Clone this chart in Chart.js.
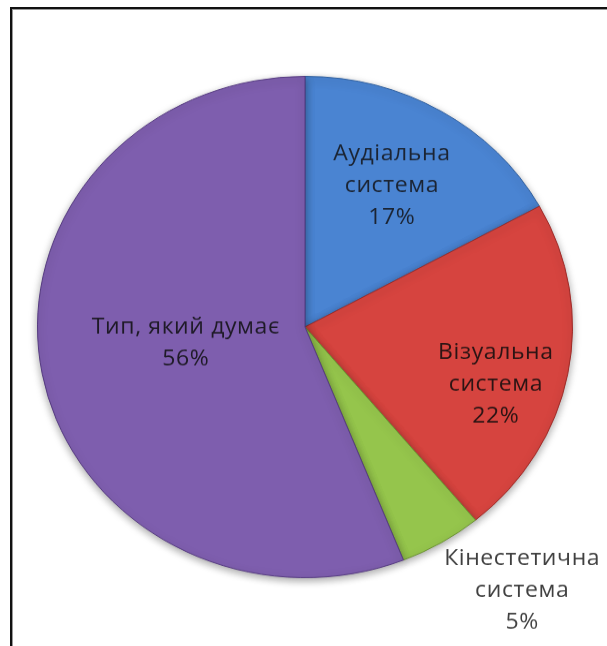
<!DOCTYPE html>
<html>
<head>
<meta charset="utf-8">
<script src="https://cdn.jsdelivr.net/npm/chart.js@4.4.0/dist/chart.umd.min.js"></script>
<style>
    html, body { margin: 0; padding: 0; background: #fff; overflow: hidden; }
    #frame {
        position: absolute; left: 10px; top: 7px; width: 597px; height: 639px;
        border-top: 2px solid #111; border-left: 2px solid #111;
        box-shadow: inset 1px 1px 0 #999;
    }
    #wrap {
        position: absolute; left: 0; top: 0; width: 607px; height: 690px;
        transform: scaleY(0.937); transform-origin: 305px 327px;
    }
</style>
</head>
<body>
<div id="frame"></div>
<div id="wrap"><canvas id="pie-Chart"></canvas></div>
<script>
    // Data
    const labels = [['Аудіальна', 'система'], ['Візуальна', 'система'], ['Кінестетична', 'система'], ['Тип, який думає']];
    const values = [17, 22, 5, 56];
    const colors = ['#4A84D2', '#D6443F', '#95C54C', '#7E5EAE'];
    const edgeColors = ['#2F5F9E', '#9E2A27', '#6A9230', '#553A80'];
    const textColors = ['#1b2433', '#2a1414', '#404040', '#1e1a26'];

    // label placement: fraction along the slice angle and fraction of radius
    const labelSpot = [[0.49, 0.65], [0.59, 0.75], [0.11, 1.33], [0.513, 0.45]];

    const sliceLabels = {
        id: 'sliceLabels',
        afterDatasetsDraw(chart) {
            const ctx = chart.ctx;
            const meta = chart.getDatasetMeta(0);
            ctx.save();
            ctx.font = '23px "Open Sans", sans-serif';
            ctx.letterSpacing = '0.6px';
            ctx.textAlign = 'center';
            ctx.textBaseline = 'middle';
            meta.data.forEach(function (arc, i) {
                const a = arc.startAngle + (arc.endAngle - arc.startAngle) * labelSpot[i][0];
                const r = arc.outerRadius * labelSpot[i][1];
                const x = arc.x + Math.cos(a) * r;
                const y = arc.y + Math.sin(a) * r;
                const lines = labels[i].concat([values[i] + '%']);
                const step = 34;
                const y0 = y - step * (lines.length - 1) / 2;
                ctx.fillStyle = textColors[i];
                lines.forEach(function (t, k) {
                    ctx.fillText(t, x, y0 + k * step);
                });
            });
            ctx.restore();
        }
    };

    const shadow = {
        id: 'shadow',
        beforeDatasetsDraw(chart) {
            const ctx = chart.ctx;
            ctx.save();
            ctx.shadowColor = 'rgba(0,0,0,0.35)';
            ctx.shadowBlur = 8;
            ctx.shadowOffsetY = 3;
        },
        afterDatasetsDraw(chart) {
            chart.ctx.restore();
        }
    };

    new Chart(document.getElementById('pie-Chart').getContext('2d'), {
        type: 'pie',
        data: {
            labels: labels.map(function (l) { return l.join(' '); }),
            datasets: [{
                data: values,
                backgroundColor: colors,
                borderColor: edgeColors,
                borderWidth: 1
            }]
        },
        options: {
            responsive: true,
            maintainAspectRatio: false,
            animation: false,
            layout: { padding: { left: 37, right: 34, top: 59, bottom: 95 } },
            plugins: {
                legend: { display: false },
                tooltip: { enabled: false }
            }
        },
        plugins: [shadow, sliceLabels]
    });
</script>
</body>
</html>
